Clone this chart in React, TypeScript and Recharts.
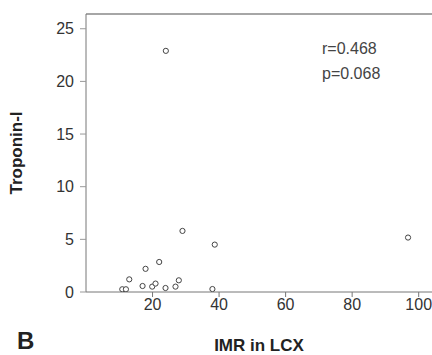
import { ScatterChart, Scatter, XAxis, YAxis, ReferenceLine, Customized } from 'recharts'

// IMR in LCX vs Troponin-I
const imr = [10.9, 12.0, 13.0, 17.0, 17.9, 19.9, 20.9, 22.0, 23.9, 24.0, 26.9, 27.9, 29.0, 38.0, 38.7, 96.8]
const troponin = [0.26, 0.26, 1.2, 0.57, 2.2, 0.51, 0.8, 2.85, 0.38, 22.9, 0.51, 1.11, 5.8, 0.28, 4.5, 5.17]

const xTicks = [20, 40, 60, 80, 100]
const yTicks = [0, 5, 10, 15, 20, 25]
const xDomain = [0, 104]
const yDomain = [0, 26.4]

const stats = ['r=0.468', 'p=0.068']

const data = imr.map((x, i) => ({ x, y: troponin[i] }))

const font = '"Liberation Sans", Arial, sans-serif'
const tick = { fontSize: 16, fill: '#333', fontFamily: font }

const Dot = (props: any) => (
  <circle cx={props.cx} cy={props.cy} r={2.6} fill="#fff" stroke="#444" strokeWidth={1} />
)

const Extras = () => (
  <g fontFamily={font}>
    {stats.map((s, i) => (
      <text key={s} x={322} y={54 + i * 25} fontSize={16} fill="#444">
        {s}
      </text>
    ))}
    <text x={17} y={349} fontSize={24} fontWeight="bold" fill="#222">
      B
    </text>
  </g>
)

export default function App() {
  return (
    <div style={{ position: 'absolute', left: 0, top: 0, background: '#fff' }}>
      <ScatterChart width={432} height={355} margin={{ top: 14, right: 0, left: 0, bottom: 0 }}>
        <XAxis
          type="number"
          dataKey="x"
          domain={xDomain}
          ticks={xTicks}
          allowDataOverflow
          height={63}
          tick={tick}
          tickLine={{ stroke: '#777' }}
          axisLine={{ stroke: '#777' }}
          tickSize={5}
          label={{
            value: 'IMR in LCX',
            position: 'insideBottom',
            offset: 4,
            style: { fontSize: 17, fontWeight: 'bold', fill: '#222', fontFamily: font },
          }}
        />
        <YAxis
          type="number"
          dataKey="y"
          domain={yDomain}
          ticks={yTicks}
          allowDataOverflow
          width={86}
          tick={tick}
          tickLine={{ stroke: '#999' }}
          axisLine={{ stroke: '#777' }}
          tickSize={6}
          tickMargin={6}
          label={{
            value: 'Troponin-I',
            angle: -90,
            position: 'insideLeft',
            offset: 16,
            style: { fontSize: 17, fontWeight: 'bold', fill: '#222', fontFamily: font, textAnchor: 'middle' },
          }}
        />
        <ReferenceLine y={yDomain[1]} stroke="#888" strokeWidth={1.5} />
        <Scatter data={data} shape={Dot} isAnimationActive={false} />
        <Customized component={Extras} />
      </ScatterChart>
    </div>
  )
}
